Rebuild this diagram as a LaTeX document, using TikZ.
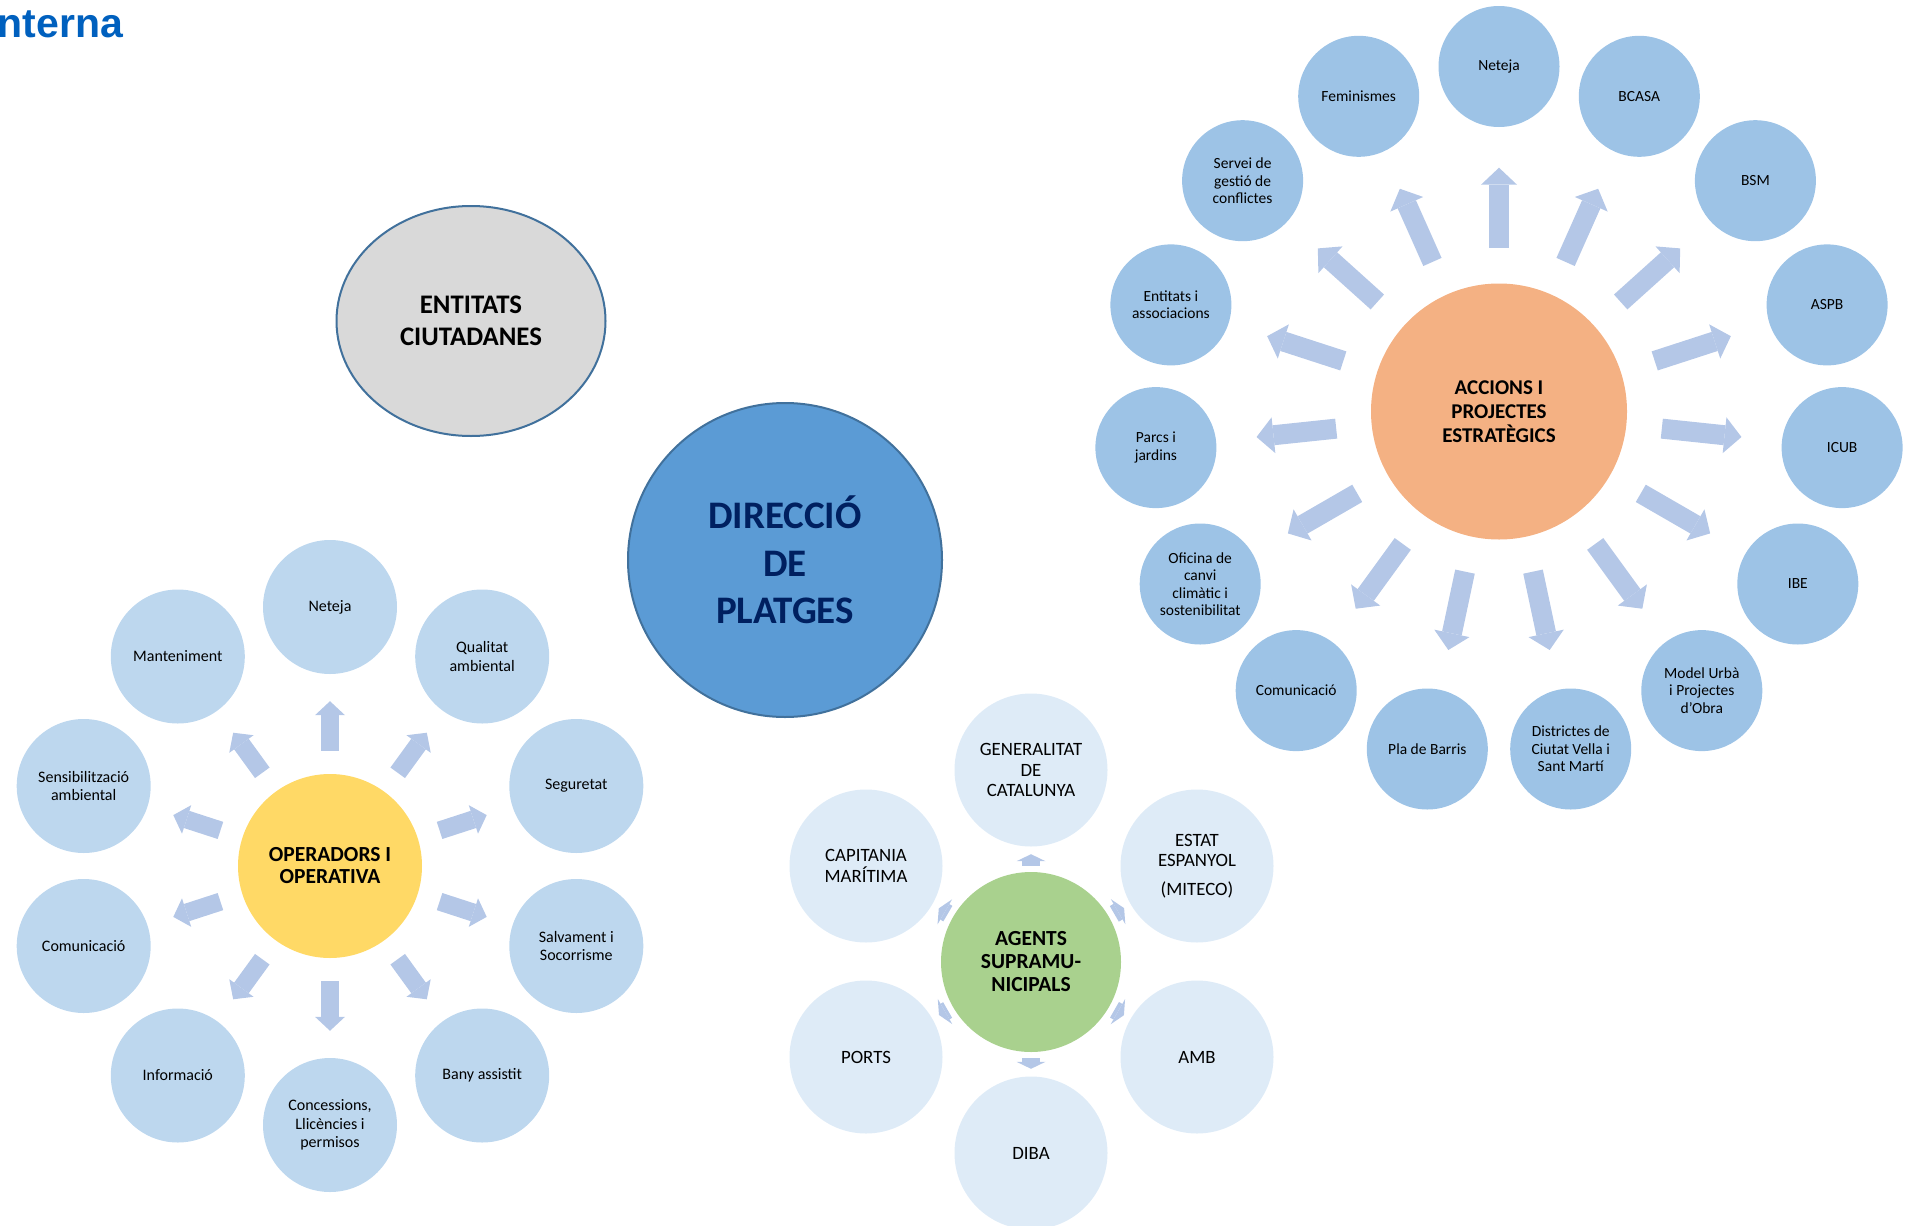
\documentclass[tikz,border=0pt]{standalone}
\usepackage{fontspec}
\setmainfont{Carlito}
\newfontfamily\arialfont{Liberation Sans}
\usetikzlibrary{arrows.meta,shapes.geometric}

\definecolor{dirblue}{RGB}{91,155,213}
\definecolor{dirline}{RGB}{65,113,156}
\definecolor{navy}{RGB}{0,32,96}
\definecolor{entgrey}{RGB}{217,217,217}
\definecolor{opyellow}{RGB}{255,217,102}
\definecolor{opsatblue}{RGB}{189,215,238}
\definecolor{aggreen}{RGB}{169,209,142}
\definecolor{agsatblue}{RGB}{222,235,247}
\definecolor{accorange}{RGB}{244,177,131}
\definecolor{accsatblue}{RGB}{157,195,230}
\definecolor{arrowblue}{RGB}{180,199,231}
\definecolor{titleblue}{RGB}{0,96,190}

\tikzset{
  hub/.style={circle,inner sep=0pt,align=center},
  opsat/.style={circle,fill=opsatblue,minimum size=134pt,inner sep=0pt,align=center,font=\fontsize{16}{18.5}\selectfont},
  agsat/.style={circle,fill=agsatblue,minimum size=153pt,inner sep=0pt,align=center,font=\fontsize{18.8}{20.5}\selectfont},
  accsat/.style={circle,fill=accsatblue,minimum size=121pt,inner sep=0pt,align=center,font=\fontsize{15.5}{17.5}\selectfont},
  oparrow/.style={draw=arrowblue,line width=18pt,shorten <=23pt,shorten >=27pt,-{Triangle[width=30pt,length=14pt,line width=0pt]}},
  agarrow/.style={draw=arrowblue,line width=18pt,shorten <=6pt,shorten >=7.5pt,-{Triangle[width=29pt,length=7pt,line width=0pt]}},
  accarrow/.style={draw=arrowblue,line width=20pt,shorten <=35.5pt,shorten >=40.5pt,-{Triangle[width=36pt,length=17pt,line width=0pt]}}
}

\begin{document}
\begin{tikzpicture}[x=1pt,y=-1pt] % four groups round the beach office
        \useasboundingbox (0,0) rectangle (1909,1226);
        \node[anchor=base west,inner sep=0pt,text=titleblue,font=\arialfont\bfseries\fontsize{41}{48}\selectfont] (title) at (-2.6,37) {nterna};
        \node[hub,draw=dirline,line width=2pt,fill=dirblue,minimum size=314pt,text=navy,font=\bfseries\fontsize{39}{47.5}\selectfont] (dir) at (785,560) {DIRECCIÓ\\DE\\PLATGES};
        \node[ellipse,draw=dirline,line width=2pt,fill=entgrey,minimum width=269pt,minimum height=230pt,inner sep=0pt,align=center,font=\bfseries\fontsize{26.8}{32}\selectfont] (ent) at (471,321) {ENTITATS\\CIUTADANES};

        % operadors
        \node[hub,fill=opyellow,minimum size=184pt,font=\bfseries\fontsize{21.5}{22}\selectfont] (op) at (330,866) {OPERADORS I\\OPERATIVA};
        \node[opsat] (op1) at (330,607) {Neteja};
        \node[opsat] (op2) at (482.2,656.5) {Qualitat\\ambiental};
        \node[opsat] (op3) at (576.3,786) {Seguretat};
        \node[opsat] (op4) at (576.3,946) {Salvament i\\Socorrisme};
        \node[opsat] (op5) at (482.2,1075.5) {Bany assistit};
        \node[opsat] (op6) at (330,1125) {Concessions,\\Llicències i\\permisos};
        \node[opsat] (op7) at (177.8,1075.5) {Informació};
        \node[opsat] (op8) at (83.7,946) {Comunicació};
        \node[opsat] (op9) at (83.7,786) {Sensibilització\\ambiental};
        \node[opsat] (op10) at (177.8,656.5) {Manteniment};
        \draw[oparrow] (op) -- (op1);
        \draw[oparrow] (op) -- (op2);
        \draw[oparrow] (op) -- (op3);
        \draw[oparrow] (op) -- (op4);
        \draw[oparrow] (op) -- (op5);
        \draw[oparrow] (op) -- (op6);
        \draw[oparrow] (op) -- (op7);
        \draw[oparrow] (op) -- (op8);
        \draw[oparrow] (op) -- (op9);
        \draw[oparrow] (op) -- (op10);

        % agents supramunicipals
        \node[hub,fill=aggreen,minimum size=180pt,font=\bfseries\fontsize{21.5}{23}\selectfont] (ag) at (1031,962) {AGENTS\\SUPRAMU-\\NICIPALS};
        \node[agsat] (ag1) at (1031,770) {GENERALITAT\\DE\\CATALUNYA};
        \node[agsat] (ag2) at (1197,866) {ESTAT\\ESPANYOL\\[8pt](MITECO)};
        \node[agsat] (ag3) at (1197,1057) {AMB};
        \node[agsat] (ag4) at (1031,1153) {DIBA};
        \node[agsat] (ag5) at (866,1057) {PORTS};
        \node[agsat] (ag6) at (866,866) {CAPITANIA\\MARÍTIMA};
        \draw[agarrow] (ag) -- (ag1);
        \draw[agarrow] (ag) -- (ag2);
        \draw[agarrow] (ag) -- (ag3);
        \draw[agarrow] (ag) -- (ag4);
        \draw[agarrow] (ag) -- (ag5);
        \draw[agarrow] (ag) -- (ag6);

        % accions i projectes
        \node[hub,fill=accorange,minimum size=256pt,font=\bfseries\fontsize{21}{24}\selectfont] (acc) at (1499,411.5) {ACCIONS I\\PROJECTES\\ESTRATÈGICS};
        \node[accsat] (acc1) at (1499,66.5) {Neteja};
        \node[accsat] (acc2) at (1639.3,96.3) {BCASA};
        \node[accsat] (acc3) at (1755.4,180.7) {BSM};
        \node[accsat] (acc4) at (1827.1,304.9) {ASPB};
        \node[accsat] (acc5) at (1842.1,447.6) {ICUB};
        \node[accsat] (acc6) at (1797.8,584) {IBE};
        \node[accsat] (acc7) at (1701.8,690.6) {Model Urbà\\i Projectes\\d’Obra};
        \node[accsat] (acc8) at (1570.7,749) {Districtes de\\Ciutat Vella i\\Sant Martí};
        \node[accsat] (acc9) at (1427.3,749) {Pla de Barris};
        \node[accsat] (acc10) at (1296.2,690.6) {Comunicació};
        \node[accsat] (acc11) at (1200.2,584) {Oficina de\\canvi\\climàtic i\\sostenibilitat};
        \node[accsat] (acc12) at (1155.9,447.6) {Parcs i\\jardins};
        \node[accsat] (acc13) at (1170.9,304.9) {Entitats i\\associacions};
        \node[accsat] (acc14) at (1242.6,180.7) {Servei de\\gestió de\\conflictes};
        \node[accsat] (acc15) at (1358.7,96.3) {Feminismes};
        \draw[accarrow] (acc) -- (acc1);
        \draw[accarrow] (acc) -- (acc2);
        \draw[accarrow] (acc) -- (acc3);
        \draw[accarrow] (acc) -- (acc4);
        \draw[accarrow] (acc) -- (acc5);
        \draw[accarrow] (acc) -- (acc6);
        \draw[accarrow] (acc) -- (acc7);
        \draw[accarrow] (acc) -- (acc8);
        \draw[accarrow] (acc) -- (acc9);
        \draw[accarrow] (acc) -- (acc10);
        \draw[accarrow] (acc) -- (acc11);
        \draw[accarrow] (acc) -- (acc12);
        \draw[accarrow] (acc) -- (acc13);
        \draw[accarrow] (acc) -- (acc14);
        \draw[accarrow] (acc) -- (acc15);
\end{tikzpicture}
\end{document}
